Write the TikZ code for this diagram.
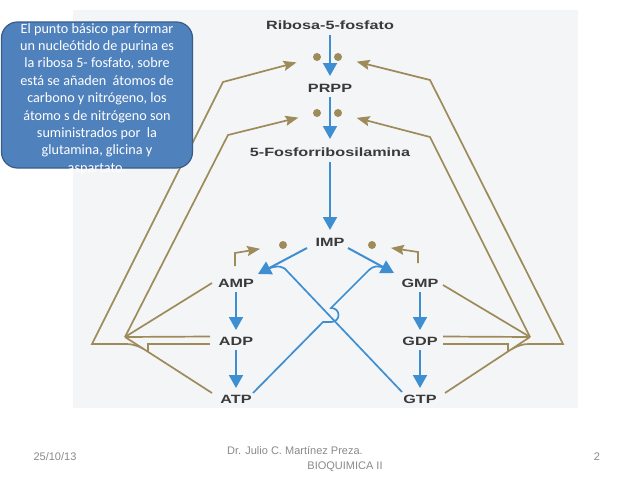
\documentclass[tikz,border=0pt]{standalone}
\usepackage{fontspec}
\setmainfont{Liberation Sans}
\newfontfamily\boxfont{Carlito}
\usetikzlibrary{arrows.meta,calc}
\definecolor{bluel}{HTML}{3D8FD1}
\definecolor{brownl}{HTML}{9E8B5A}
\definecolor{lblc}{HTML}{3A3A3A}
\definecolor{boxfill}{HTML}{4F81BD}
\definecolor{boxedge}{HTML}{385D8A}
\definecolor{footc}{HTML}{8A8A8A}
\definecolor{bgc}{HTML}{F4F5F7}
\newcommand{\wlbl}[1]{\scalebox{1.35}[1]{#1}}
\begin{document}
\begin{tikzpicture}[x=1pt,y=-1pt,
  lbl/.style={font=\fontsize{12}{14}\selectfont\bfseries, text=lblc, inner sep=2pt},
  bluearr/.style={draw=bluel, line width=2pt, -{Triangle[length=13pt,width=14pt]}},
  blueln/.style={draw=bluel, line width=1.7pt},
  brownln/.style={draw=brownl, line width=1.7pt},
  brownarr/.style={brownln, -{Stealth[length=13pt,width=10pt,inset=2pt]}},
  dotn/.style={circle, fill=brownl, inner sep=0pt, minimum size=8pt},
  foot/.style={font=\fontsize{11}{13}\selectfont, text=footc, inner sep=0pt},
]
\useasboundingbox (0,0) rectangle (638,479);
\fill[bgc] (73,10) rectangle (578,408);

% labels
\node[lbl] (rib) at (330,25) {\wlbl{Ribosa-5-fosfato}};
\node[lbl] (prpp) at (330,88) {\wlbl{PRPP}};
\node[lbl] (fos) at (330,152) {\wlbl{5-Fosforribosilamina}};
\node[lbl] (imp) at (330,242) {\wlbl{IMP}};
\node[lbl] (amp) at (236,283) {\wlbl{AMP}};
\node[lbl] (adp) at (236,341) {\wlbl{ADP}};
\node[lbl] (atp) at (236,399) {\wlbl{ATP}};
\node[lbl] (gmp) at (420,283) {\wlbl{GMP}};
\node[lbl] (gdp) at (420,341) {\wlbl{GDP}};
\node[lbl] (gtp) at (420,399) {\wlbl{GTP}};

% dots
\node[dotn] (d1l) at (317,57) {};
\node[dotn] (d1r) at (338,57) {};
\node[dotn] (d2l) at (317,113) {};
\node[dotn] (d2r) at (338,113) {};
\node[dotn] (dil) at (283,245) {};
\node[dotn] (dir) at (372,245) {};

% coordinates
\coordinate (ia1) at (307,248);
\coordinate (ia2) at (258,274);
\coordinate (ig1) at (348,248);
\coordinate (ig2) at (394,273);
\coordinate (lconv) at (125,337);
\coordinate (lout) at (92,344);
\coordinate (lb1) at (223,82);
\coordinate (lb2) at (228,135);
\coordinate (ampL) at (212,283);
\coordinate (adpU) at (210,336.5);
\coordinate (adpD) at (210,344);
\coordinate (atpL) at (212,393);
\coordinate (ljA) at (143,348.6);
\coordinate (ampT) at (235,266);
\coordinate (ampC) at (235,253);
\coordinate (rconv) at (530,337);
\coordinate (rout) at (563,344);
\coordinate (rb1) at (430,80);
\coordinate (rb2) at (430,137);
\coordinate (gmpR) at (443,285);
\coordinate (gdpU) at (443,336.5);
\coordinate (gdpD) at (443,344);
\coordinate (gtpR) at (445,393);
\coordinate (rjA) at (512,349);
\coordinate (gmpT) at (418,263);
\coordinate (gmpC) at (418,252);
\coordinate (atpR) at (253,393);
\coordinate (gtpL) at (402,392);

% blue main arrows
\draw[bluearr, shorten <=10pt, shorten >=12pt] (rib.center) -- (prpp.center);
\draw[bluearr, shorten <=9pt, shorten >=13pt] (prpp.center) -- (fos.center);
\draw[bluearr, shorten <=10pt, shorten >=12pt] (fos.center) -- (imp.center);
\draw[bluearr, shorten <=9pt, shorten >=11pt] (amp.center) -- (adp.center);
\draw[bluearr, shorten <=9pt, shorten >=11pt] (adp.center) -- (atp.center);
\draw[bluearr, shorten <=9pt, shorten >=11pt] (gmp.center) -- (gdp.center);
\draw[bluearr, shorten <=9pt, shorten >=11pt] (gdp.center) -- (gtp.center);
\draw[bluearr] (ia1) -- (ia2);
\draw[bluearr] (ig1) -- (ig2);

% crossing lines
\draw[blueln] (gtpL) -- (288,272) .. controls (284,266) and (278,265) .. (268,268.7);
\draw[blueln] (atpR) -- (323,322) -- (331,322) .. controls (341,322) and (341,308) .. (331,308)
  -- (369,270) .. controls (373,266) and (378,265) .. (386,268.7);

% brown left
\draw[brownln] (ampL) -- (lconv);
\draw[brownln] (adpU) -- (lconv);
\draw[brownln] (atpL) -- (lconv);
\draw[brownln] (adpD) -- (148,344) -- (148,351.8);
\draw[brownarr, shorten >=15pt] (lconv) -- (lb2) -- (d2l);
\draw[brownarr, shorten >=17pt] (ljA) .. controls (136,345) and (131,344) .. (126,344) -- (lout) -- (lb1) -- (d1l);
\draw[brownarr, shorten >=19pt] (ampT) -- (ampC) -- (dil);

% brown right
\draw[brownln] (gmpR) -- (rconv);
\draw[brownln] (gdpU) -- (rconv);
\draw[brownln] (gtpR) -- (rconv);
\draw[brownln] (gdpD) -- (508,344) -- (508,351.5);
\draw[brownarr, shorten >=15pt] (rconv) -- (rb2) -- (d2r);
\draw[brownarr, shorten >=15pt] (rjA) .. controls (519,345) and (524,344) .. (529,344) -- (rout) -- (rb1) -- (d1r);
\draw[brownarr, shorten >=15pt] (gmpT) -- (gmpC) -- (dir);

% text box
\node[draw=boxedge, fill=boxfill, rounded corners=16pt, line width=1.2pt,
      minimum width=191pt, minimum height=146pt, inner sep=0pt] (box) at (97,95) {};
\node[text=white, align=center, inner sep=0pt,
      font=\boxfont\fontsize{14.2}{17.4}\selectfont] (txt) at (97,99)
  {El punto básico par formar\\ un nucleótido de purina es\\ la ribosa 5- fosfato, sobre\\
   está se añaden\ \ átomos de\\ carbono y nitrógeno, los\\ átomo s de nitrógeno son\\
   suministrados por\ \ la\\ glutamina, glicina y\\ aspartato.};

% footer
\node[foot] (date) at (55,457) {25/10/13};
\node[foot] (auth) at (295,451) {Dr. Julio C. Martínez Preza.};
\node[foot] (bioq) at (345,467) {BIOQUIMICA II};
\node[foot] (pg) at (597,457) {2};
\end{tikzpicture}
\end{document}
